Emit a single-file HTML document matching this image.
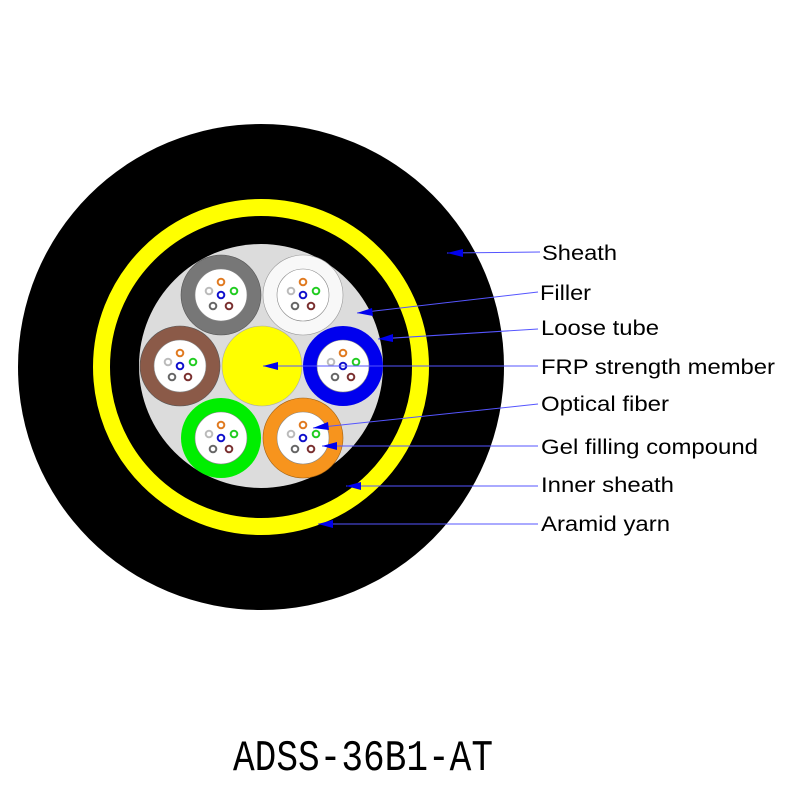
<!DOCTYPE html>
<html><head><meta charset="utf-8"><style>body{margin:0;background:#fff}svg{display:block}</style></head>
<body>
<svg width="800" height="800" viewBox="0 0 800 800" xmlns="http://www.w3.org/2000/svg">
<defs>
<g id="f">
<circle cx="0" cy="0" r="26" fill="#fff" stroke="#888" stroke-width="0.6"/>
<circle cx="0" cy="-13" r="3.3" fill="#fff" stroke="#e07a20" stroke-width="2"/>
<circle cx="13" cy="-4" r="3.3" fill="#fff" stroke="#22cc22" stroke-width="2"/>
<circle cx="-12" cy="-4" r="3.3" fill="#fff" stroke="#bbb" stroke-width="2"/>
<circle cx="0" cy="0" r="3.3" fill="#fff" stroke="#1010cc" stroke-width="2"/>
<circle cx="-8" cy="11" r="3.3" fill="#fff" stroke="#666" stroke-width="2"/>
<circle cx="8" cy="11" r="3.3" fill="#fff" stroke="#7a3030" stroke-width="2"/>
</g>
</defs>
<circle cx="261" cy="367" r="243" fill="#000"/>
<circle cx="261" cy="367" r="159.5" fill="none" stroke="#ffff00" stroke-width="17"/>
<circle cx="261" cy="366" r="122" fill="#dcdcdc"/>
<circle cx="262" cy="366" r="40" fill="#ffff00" stroke="#aaa" stroke-width="0.6"/>
<circle cx="221" cy="295" r="40" fill="#777" stroke="#555" stroke-width="0.6"/><use href="#f" x="221" y="295"/>
<circle cx="303" cy="295" r="40" fill="#f8f8f8" stroke="#999" stroke-width="0.6"/><use href="#f" x="303" y="295"/>
<circle cx="180" cy="366" r="40" fill="#8b5a48" stroke="#555" stroke-width="0.6"/><use href="#f" x="180" y="366"/>
<circle cx="343" cy="366" r="40" fill="#0000ee"/><use href="#f" x="343" y="366"/>
<circle cx="221" cy="438" r="40" fill="#00ee00"/><use href="#f" x="221" y="438"/>
<circle cx="303" cy="438" r="40" fill="#f7941d" stroke="#a06010" stroke-width="0.6"/><use href="#f" x="303" y="438"/>
<g stroke="#5555ff" stroke-width="1">
<line x1="447" y1="253" x2="540" y2="252"/>
<line x1="357" y1="313" x2="538" y2="292"/>
<line x1="378" y1="339" x2="538" y2="329"/>
<line x1="263" y1="366" x2="538" y2="366"/>
<line x1="313" y1="428" x2="538" y2="404"/>
<line x1="322" y1="446" x2="538" y2="446"/>
<line x1="346" y1="486" x2="538" y2="486"/>
<line x1="318" y1="524" x2="538" y2="524"/>
</g>
<g fill="#0000ee">
<polygon points="447,253 463,249 463,257"/>
<polygon points="357,313 372,308 373,316"/>
<polygon points="378,339 393,334 393,342"/>
<polygon points="263,366 278,362 278,370"/>
<polygon points="313,428 328,422 329,430"/>
<polygon points="322,446 337,442 337,450"/>
<polygon points="346,486 361,482 361,490"/>
<polygon points="318,524 333,520 333,528"/>
</g>
<g font-family="Liberation Sans, sans-serif" font-size="21" fill="#000" lengthAdjust="spacingAndGlyphs">
<text x="542" y="260" textLength="75" lengthAdjust="spacingAndGlyphs">Sheath</text>
<text x="540" y="300" textLength="51" lengthAdjust="spacingAndGlyphs">Filler</text>
<text x="541" y="335" textLength="118" lengthAdjust="spacingAndGlyphs">Loose tube</text>
<text x="541" y="374" textLength="234" lengthAdjust="spacingAndGlyphs">FRP strength member</text>
<text x="541" y="411" textLength="128" lengthAdjust="spacingAndGlyphs">Optical fiber</text>
<text x="541" y="454" textLength="217" lengthAdjust="spacingAndGlyphs">Gel filling compound</text>
<text x="541" y="492" textLength="133" lengthAdjust="spacingAndGlyphs">Inner sheath</text>
<text x="541" y="531" textLength="129" lengthAdjust="spacingAndGlyphs">Aramid yarn</text>
</g>
<text x="233" y="770" font-family="Liberation Mono, monospace" font-size="44" textLength="260" lengthAdjust="spacingAndGlyphs" fill="#000">ADSS-36B1-AT</text>
</svg>
</body></html>
